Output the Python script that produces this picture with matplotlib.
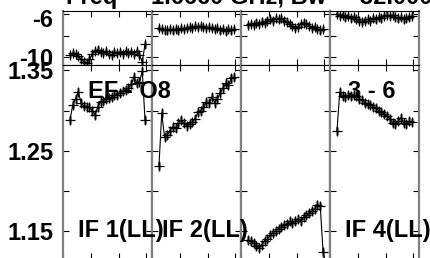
import numpy as np
import matplotlib
matplotlib.use('Agg')
import matplotlib.pyplot as plt
from matplotlib.transforms import ScaledTranslation

plt.rcParams['font.family'] = ['Liberation Sans', 'DejaVu Sans']
plt.rcParams['font.weight'] = 'bold'

# channels per IF
chan = np.arange(1, 29)

# phase (deg) per IF
phase_if1 = [-9.8, -9.6, -9.7, -9.9, -10.2, -10.4, -10.5, -10.2, -9.7, -9.4, -9.3, -9.5, -9.6, -9.4,
             -9.7, -9.8, -9.5, -9.6, -9.5, -9.7, -9.4, -9.6, -9.5, -9.7, -9.4, -9.8, -10.4, -8.8]
phase_if2 = [-7.3, -7.4, -7.5, -7.5, -7.4, -7.5, -7.4, -7.5, -7.3, -7.4, -7.3, -7.2, -7.3, -7.1,
             -7.2, -7.1, -7.2, -7.3, -7.2, -7.3, -7.4, -7.3, -7.5, -7.4, -7.6, -7.4, -7.5, -7.4]
phase_if3 = [-7.0, -6.9, -7.0, -6.8, -6.9, -6.7, -6.8, -6.6, -6.5, -6.6, -6.4, -6.5, -6.4, -6.6,
             -6.7, -6.9, -7.1, -7.3, -7.2, -6.9, -6.8, -6.9, -7.1, -7.3, -7.2, -7.4, -7.5, -7.4]
phase_if4 = [-6.0, -6.2, -6.1, -6.3, -6.2, -6.4, -6.3, -6.5, -6.6, -6.7, -6.6, -6.5, -6.6, -6.4,
             -6.5, -6.3, -6.4, -6.2, -6.1, -6.2, -6.1, -6.3, -6.4, -6.3, -6.5, -6.4, -6.3, -6.2]

# amplitude per IF
amp_if1 = [1.288, 1.307, 1.315, 1.323, 1.310, 1.306, 1.305, 1.304, 1.300, 1.295, 1.305, 1.311, 1.312, 1.315,
           1.316, 1.317, 1.319, 1.320, 1.322, 1.324, 1.326, 1.328, 1.333, 1.342, 1.334, 1.336, 1.349, 1.288]
amp_if2 = [1.231, 1.297, 1.267, 1.270, 1.275, 1.280, 1.278, 1.285, 1.288, 1.284, 1.281, 1.283, 1.286, 1.290,
           1.298, 1.300, 1.304, 1.311, 1.309, 1.317, 1.310, 1.315, 1.322, 1.328, 1.334, 1.332, 1.340, 1.342]
amp_if3 = [1.139, 1.137, 1.135, 1.131, 1.129, 1.133, 1.138, 1.140, 1.145, 1.148, 1.150, 1.153, 1.155, 1.157,
           1.159, 1.162, 1.160, 1.162, 1.165, 1.163, 1.167, 1.170, 1.172, 1.175, 1.178, 1.183, 1.181, 1.124]
amp_if4 = [1.275, 1.323, 1.318, 1.317, 1.319, 1.318, 1.320, 1.318, 1.315, 1.313, 1.310, 1.308, 1.307, 1.305,
           1.303, 1.300, 1.298, 1.296, 1.293, 1.290, 1.285, 1.283, 1.287, 1.291, 1.285, 1.283, 1.287, 1.286]

phases = [phase_if1, phase_if2, phase_if3, phase_if4]
amps = [amp_if1, amp_if2, amp_if3, amp_if4]
if_labels = ['IF 1(LL)', 'IF 2(LL)', None, 'IF 4(LL)']

W, H = 431, 258
fig = plt.figure(figsize=(W / 100, H / 100), dpi=100)

col_edges = [63, 152, 241, 330, 419]
ph_top, ph_bot = 11, 65
am_top, am_bot = 65, 259
FS = 17


def frame(ax):
    for s in ['left', 'right']:
        ax.spines[s].set_color('#808080')
        ax.spines[s].set_linewidth(1.6)
    for s in ['top', 'bottom']:
        ax.spines[s].set_color('black')
        ax.spines[s].set_linewidth(0.8)
    ax.tick_params(direction='in', length=4, width=0.8, color='black',
                   top=True, right=True, labelsize=FS, pad=7)
    ax.set_xlim(-1.5, 30.5)
    ax.set_xticks(np.arange(-1.5, 30, 10))
    ax.set_xticklabels([])


def draw(ax, y, err):
    ax.errorbar(chan, y, yerr=err, fmt='none', ecolor='0.5', elinewidth=2.0, zorder=2)
    ax.plot(chan, y, color='black', lw=0.8, marker='+', ms=7, mew=0.9, zorder=3)


for i in range(4):
    x0 = col_edges[i] / W
    w = (col_edges[i + 1] - col_edges[i]) / W

    axp = fig.add_axes([x0, 1 - ph_bot / H, w, (ph_bot - ph_top) / H])
    frame(axp)
    draw(axp, phases[i], 0.3)
    axp.set_ylim(-10.71, -5.72)
    axp.set_yticks([-6, -8, -10])
    if i == 0:
        axp.set_yticklabels(['-6', '', '-10'])
        lbl = axp.get_yticklabels()[0]
        lbl.set_transform(lbl.get_transform() + ScaledTranslation(0, -4 / 100, fig.dpi_scale_trans))
    else:
        axp.set_yticklabels([])

    axa = fig.add_axes([x0, 1 - am_bot / H, w, (am_bot - am_top) / H])
    frame(axa)
    draw(axa, amps[i], 0.005)
    axa.set_ylim(1.1152, 1.3568)
    axa.set_yticks([1.15, 1.20, 1.25, 1.30, 1.35])
    if i == 0:
        axa.set_yticklabels(['1.15', '', '1.25', '', '1.35'])
    else:
        axa.set_yticklabels([])

# panel labels
fig.text(88 / W, 1 - 92 / H, 'EF - O8', fontsize=FS, fontweight='bold', va='center', ha='left')
fig.text(348 / W, 1 - 92 / H, '3 - 6', fontsize=FS, fontweight='bold', va='center', ha='left')
for lab, xl in zip(if_labels, [78, 162, None, 345]):
    if lab:
        fig.text(xl / W, 1 - 231 / H, lab, fontsize=FS, fontweight='bold', va='center', ha='left')

# title (cut off at the top)
fig.text(66 / W, 1 - 4 / H, 'Freq =  1.6660 GHz, Bw =  32.000 kHz', fontsize=FS,
         fontweight='bold', va='baseline', ha='left')

fig.savefig('out.png', dpi=100)
